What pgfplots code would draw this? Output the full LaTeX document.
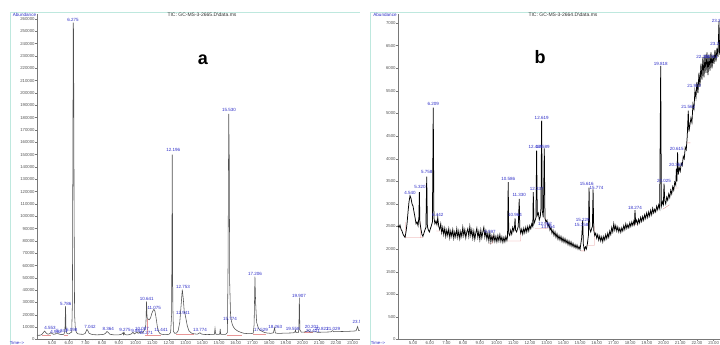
\documentclass[border=0pt]{standalone}
\usepackage{fontspec}
\setmainfont{Liberation Sans}
\usepackage{pgfplots}
\usepackage{pgfplotstable}
\pgfplotsset{compat=1.18}
\definecolor{pk}{RGB}{45,45,200}
\definecolor{axg}{RGB}{120,120,120}
\definecolor{tlg}{RGB}{85,85,85}
\definecolor{frm}{RGB}{190,232,222}
\definecolor{sigL}{RGB}{80,80,80}
\definecolor{pnk}{RGB}{232,150,150}
\pgfplotstableread{
t v
4.10 3600
4.20 3400
4.30 3500
4.40 4200
4.50 6000
4.56 6800
4.65 5200
4.75 4300
4.85 4600
4.93 5600
5.00 4800
5.10 4200
5.20 4500
5.30 5400
5.38 4600
5.50 4100
5.60 4000
5.70 4200
5.77 6000
5.81 27000
5.84 7000
5.90 4800
6.00 4500
6.10 5400
6.18 6000
6.22 30000
6.25 160000
6.27 257000
6.29 250000
6.32 110000
6.35 20000
6.40 8000
6.47 5500
6.55 4600
6.70 4300
6.85 4200
6.98 4800
7.05 7000
7.09 8200
7.14 7200
7.22 5000
7.35 4300
7.50 3900
7.70 3800
7.90 3900
8.10 4200
8.20 5000
8.29 6500
8.36 5800
8.45 4400
8.60 3900
8.80 3700
9.00 3800
9.15 4200
9.25 5500
9.28 4000
9.31 5800
9.36 4000
9.50 3700
9.65 4000
9.75 4600
9.85 5800
9.93 4500
10.00 5200
10.08 6200
10.15 5000
10.25 5800
10.35 5200
10.45 6000
10.55 8000
10.62 12000
10.66 31000
10.69 18000
10.75 16500
10.82 16000
10.90 17500
10.97 21000
11.05 23500
11.10 24500
11.16 23000
11.22 18500
11.30 11000
11.38 6500
11.45 5000
11.55 4300
11.70 4000
11.85 4000
12.00 4200
12.10 5500
12.16 20000
12.20 150000
12.23 30000
12.27 6500
12.35 5000
12.45 5200
12.55 7000
12.65 14000
12.73 28000
12.80 40500
12.86 33000
12.92 22000
12.97 20500
13.03 16000
13.10 11000
13.20 7000
13.35 5200
13.50 4600
13.70 4300
13.86 5500
13.95 4400
14.10 4100
14.30 4000
14.50 4100
14.72 4200
14.76 9000
14.80 4300
14.95 4200
15.04 4300
15.07 8500
15.10 4300
15.25 4100
15.40 4200
15.50 5500
15.54 60000
15.58 183000
15.61 150000
15.64 45000
15.69 20000
15.75 14500
15.80 12000
15.87 10000
15.95 8500
16.10 7000
16.30 5800
16.50 5000
16.70 4800
16.90 4700
17.05 5200
17.10 12000
17.15 51000
17.19 30000
17.25 14000
17.35 9500
17.45 7500
17.55 6800
17.70 5800
17.90 5200
18.10 5000
18.25 5400
18.33 9500
18.37 5300
18.50 5000
18.70 5000
18.90 5200
19.10 5200
19.30 5300
19.45 5400
19.55 6200
19.58 7500
19.61 5600
19.75 5600
19.78 8000
19.81 34000
19.84 8000
19.92 5900
20.10 6000
20.25 6800
20.35 7200
20.45 6000
20.60 6100
20.80 6200
20.90 5800
21.10 5900
21.40 6000
21.70 6200
21.80 7200
21.88 6300
22.10 6400
22.40 6500
22.70 6600
23.00 6800
23.20 7000
23.30 10500
23.36 7200
23.60 7200
23.80 7300
}\leftdata
\pgfplotstableread{
t v
4.10 2520
4.16 2480
4.22 2530
4.28 2440
4.34 2400
4.40 2330
4.46 2290
4.52 2260
4.58 2380
4.64 2560
4.70 2820
4.76 3050
4.82 3180
4.88 3120
4.94 3000
5.00 2950
5.06 2820
5.12 2700
5.18 2560
5.24 2600
5.30 2520
5.35 2700
5.38 3260
5.41 2600
5.47 2450
5.53 2330
5.59 2280
5.65 2350
5.71 2420
5.77 2480
5.82 3600
5.86 2500
5.92 2420
5.98 2380
6.04 2450
6.10 2520
6.16 2600
6.21 5130
6.25 2700
6.31 2560
6.37 2620
6.43 2540
6.48 2700
6.54 2500
6.60 2430
6.66 2560
6.72 2360
6.78 2480
6.84 2320
6.90 2460
6.96 2280
7.02 2420
7.08 2300
7.14 2450
7.20 2250
7.26 2400
7.32 2280
7.38 2430
7.44 2240
7.50 2380
7.56 2270
7.62 2450
7.68 2260
7.74 2400
7.80 2230
7.86 2390
7.92 2280
7.98 2480
8.04 2300
8.10 2430
8.16 2250
8.22 2380
8.28 2450
8.34 2280
8.40 2500
8.46 2300
8.52 2430
8.58 2240
8.64 2400
8.70 2220
8.76 2360
8.82 2460
8.88 2260
8.94 2390
9.00 2210
9.06 2420
9.12 2250
9.18 2380
9.24 2480
9.30 2270
9.36 2400
9.42 2220
9.48 2350
9.54 2180
9.60 2360
9.66 2160
9.72 2290
9.78 2180
9.84 2320
9.90 2170
9.96 2280
10.02 2160
10.08 2300
10.14 2180
10.20 2320
10.26 2170
10.32 2270
10.38 2150
10.44 2260
10.50 2160
10.56 2280
10.62 2190
10.66 2280
10.70 3480
10.73 2350
10.79 2300
10.85 2420
10.91 2330
10.97 2480
11.03 2400
11.08 2500
11.11 2680
11.14 2420
11.20 2380
11.26 2450
11.30 2500
11.36 3110
11.39 2480
11.45 2350
11.51 2440
11.57 2330
11.63 2460
11.69 2360
11.75 2480
11.81 2380
11.87 2500
11.93 2400
11.99 2520
12.05 2450
12.11 2560
12.17 2500
12.20 3260
12.24 2560
12.30 2620
12.36 2700
12.40 4180
12.44 2750
12.50 2800
12.56 2650
12.62 2720
12.66 2900
12.70 4840
12.74 2850
12.80 2700
12.86 4230
12.90 2680
12.96 2600
13.02 2640
13.08 2500
13.14 2560
13.20 2420
13.26 2480
13.32 2350
13.38 2420
13.44 2300
13.50 2380
13.56 2260
13.62 2340
13.68 2220
13.74 2300
13.80 2200
13.86 2280
13.92 2170
13.98 2250
14.04 2150
14.10 2230
14.16 2130
14.22 2200
14.28 2100
14.34 2180
14.40 2080
14.46 2160
14.52 2060
14.58 2130
14.64 2040
14.70 2100
14.76 2020
14.82 2090
14.88 2000
14.94 2060
15.00 1990
15.06 2150
15.10 2250
15.16 2640
15.20 2100
15.26 1980
15.32 2050
15.38 2000
15.44 2120
15.50 2300
15.54 3360
15.58 2450
15.64 2380
15.70 2460
15.74 2500
15.78 3320
15.82 2420
15.88 2300
15.94 2350
16.00 2240
16.06 2320
16.12 2200
16.18 2290
16.24 2180
16.30 2270
16.36 2160
16.42 2280
16.48 2200
16.54 2320
16.60 2230
16.66 2350
16.72 2260
16.78 2400
16.84 2320
16.90 2480
16.96 2380
17.02 2560
17.08 2420
17.14 2520
17.20 2400
17.26 2490
17.32 2380
17.38 2460
17.44 2370
17.50 2470
17.56 2400
17.62 2520
17.68 2430
17.74 2560
17.80 2460
17.86 2540
17.92 2470
17.98 2580
18.04 2500
18.10 2600
18.16 2520
18.22 2620
18.26 2560
18.29 2860
18.33 2580
18.39 2640
18.45 2550
18.51 2660
18.57 2580
18.63 2700
18.69 2610
18.75 2720
18.81 2640
18.87 2760
18.93 2680
18.99 2800
19.05 2700
19.11 2820
19.17 2730
19.23 2860
19.29 2760
19.35 2900
19.41 2800
19.47 2880
19.53 2820
19.59 2950
19.65 2870
19.71 2980
19.77 2900
19.83 6050
19.87 2950
19.93 3050
19.99 2980
20.03 3450
20.07 3080
20.13 3000
20.19 3150
20.25 3080
20.31 3220
20.37 3140
20.43 3300
20.49 3220
20.55 3380
20.61 3300
20.67 3480
20.73 3420
20.77 3780
20.80 3500
20.84 4140
20.88 3650
20.94 3800
21.00 3720
21.06 3900
21.12 3850
21.18 4050
21.24 4000
21.30 4250
21.36 4200
21.42 4500
21.48 5060
21.52 4600
21.58 4750
21.64 4900
21.70 4800
21.76 5200
21.82 5100
21.88 5500
21.94 5350
22.00 5700
22.06 5450
22.12 5900
22.18 5600
22.24 6100
22.30 5750
22.36 6250
22.42 5800
22.48 6300
22.54 5900
22.60 6350
22.66 5850
22.72 6300
22.78 5950
22.84 6350
22.90 6000
22.96 6300
23.02 6100
23.08 6400
23.14 6150
23.20 6450
23.26 6250
23.32 7050
23.36 6300
23.42 6500
23.50 6400
23.60 6550
23.70 6450
23.80 6500
}\rightdata
\pgfplotsset{
  gcms/.style={
    anchor=south west, scale only axis, width=329pt, height=325.5pt,
    xmin=4.1, xmax=23.8, ymin=0,
    axis x line*=bottom, axis y line*=left,
    axis line style={draw=axg,-,line width=0.4pt},
    clip=false,
    tick style={draw=axg,line width=0.3pt},
    tick align=outside, major tick length=1.6pt, minor tick length=1pt,
    xtick={5,6,...,23}, minor x tick num=4,
    /pgf/number format/assume math mode=true,
    tick label style={font=\fontsize{4.3}{5}\selectfont, text=tlg},
    xticklabel style={inner sep=0.6pt, /pgf/number format/.cd, fixed, fixed zerofill, precision=2},
    yticklabel style={inner sep=0.6pt, /pgf/number format/.cd, fixed, 1000 sep={}},
    scaled y ticks=false, scaled x ticks=false,
  },
}
\tikzset{plab/.style={font=\fontsize{4.5}{5}\selectfont, text=pk, inner sep=0pt}}
\begin{document}
\begin{tikzpicture}[x=1pt,y=1pt]
\useasboundingbox (0,0) rectangle (720,345);
\fill[white] (0,0) rectangle (720,345);
\draw[frm, line width=0.8pt] (10,0) -- (10,332.3) -- (360,332.3);
\begin{axis}[gcms, at={(37pt,5.5pt)}, ymax=264000,
  ytick={0,10000,20000,30000,40000,50000,60000,70000,80000,90000,100000,110000,120000,130000,140000,150000,160000,170000,180000,190000,200000,210000,220000,230000,240000,250000,260000}]
\addplot[pnk, line width=0.35pt, unbounded coords=jump] coordinates {
(4.40,3300) (4.95,3300) (nan,nan)
(5.70,3400) (5.95,3400) (nan,nan)
(10.55,3600) (11.55,3600) (nan,nan)
(10.69,3600) (10.69,17000) (nan,nan)
(12.45,4300) (13.50,4300) (nan,nan)
(15.45,3900) (16.40,3900) (nan,nan)
(17.05,4600) (17.80,4600) (nan,nan)
(20.10,5600) (20.60,5600) (nan,nan)
};
\addplot[sigL, line width=0.55pt] table[x=t,y=v] {\leftdata};
\node[plab] at (axis cs:6.26,259500) {6.275};
\node[plab] at (axis cs:15.60,186000) {15.530};
\node[plab] at (axis cs:12.26,153500) {12.196};
\node[plab] at (axis cs:12.84,42600) {12.753};
\node[plab] at (axis cs:12.84,21200) {12.941};
\node[plab] at (axis cs:10.67,32600) {10.641};
\node[plab] at (axis cs:11.12,25800) {11.075};
\node[plab] at (axis cs:11.53,7700) {11.441};
\node[plab] at (axis cs:5.82,28800) {5.786};
\node[plab] at (axis cs:4.88,9100) {4.553};
\node[plab] at (axis cs:5.24,6300) {4.962};
\node[plab] at (axis cs:5.60,7300) {5.341};
\node[plab] at (axis cs:6.18,7700) {6.098};
\node[plab] at (axis cs:7.27,9900) {7.042};
\node[plab] at (axis cs:8.37,8800) {8.364};
\node[plab] at (axis cs:9.37,7700) {9.275};
\node[plab] at (axis cs:10.09,6900) {9.861};
\node[plab] at (axis cs:10.39,8500) {10.087};
\node[plab] at (axis cs:10.63,5300) {10.271};
\node[plab] at (axis cs:13.86,7700) {13.774};
\node[plab] at (axis cs:15.66,16400) {15.774};
\node[plab] at (axis cs:17.15,52900) {17.206};
\node[plab] at (axis cs:17.51,7700) {17.529};
\node[plab] at (axis cs:18.37,10400) {18.263};
\node[plab] at (axis cs:19.79,35500) {19.907};
\node[plab] at (axis cs:19.41,8500) {19.558};
\node[plab] at (axis cs:20.55,10400) {20.201};
\node[plab] at (axis cs:20.63,6900) {20.421};
\node[plab] at (axis cs:21.15,8300) {20.821};
\node[plab] at (axis cs:21.84,8500) {21.029};
\node[plab] at (axis cs:23.34,14400) {23.51};
\end{axis}
\fill[white] (360,0) rectangle (720,345);
\draw[frm, line width=0.8pt] (370,0) -- (370,332.3) -- (720,332.3);
\begin{axis}[gcms, at={(398pt,5.5pt)}, ymax=7200,
  ytick={0,500,1000,1500,2000,2500,3000,3500,4000,4500,5000,5500,6000,6500,7000}]
\addplot[pnk, line width=0.35pt, unbounded coords=jump] coordinates {
(4.55,2250) (5.60,2250) (nan,nan)
(4.55,2250) (4.55,2600) (nan,nan)
(5.45,2250) (5.45,2600) (nan,nan)
(6.40,2400) (6.75,2400) (nan,nan)
(9.55,2130) (9.75,2130) (9.75,2300) (nan,nan)
(10.65,2180) (11.45,2180) (nan,nan)
(11.45,2180) (11.45,2400) (nan,nan)
(12.30,2450) (13.10,2450) (nan,nan)
(12.95,2450) (12.95,2700) (nan,nan)
(15.05,1960) (15.30,1960) (nan,nan)
(15.45,2080) (15.85,2080) (15.85,2500) (nan,nan)
(18.20,2550) (18.40,2550) (nan,nan)
(19.95,2880) (20.35,2980) (nan,nan)
(20.70,3350) (20.90,3350) (nan,nan)
(21.40,4350) (21.60,4350) (nan,nan)
};
\addplot[black, line width=0.75pt] table[x=t,y=v] {\rightdata};
\node[plab] at (axis cs:4.82,3240) {4.540};
\node[plab] at (axis cs:5.42,3370) {5.320};
\node[plab] at (axis cs:5.82,3700) {5.758};
\node[plab] at (axis cs:6.21,5210) {6.209};
\node[plab] at (axis cs:6.48,2750) {6.442};
\node[plab] at (axis cs:9.61,2380) {9.597};
\node[plab] at (axis cs:10.70,3560) {10.586};
\node[plab] at (axis cs:11.11,2750) {10.964};
\node[plab] at (axis cs:11.36,3190) {11.330};
\node[plab] at (axis cs:12.41,3340) {12.337};
\node[plab] at (axis cs:12.33,4250) {12.489};
\node[plab] at (axis cs:12.76,4250) {12.589};
\node[plab] at (axis cs:12.70,4910) {12.619};
\node[plab] at (axis cs:12.90,2560) {12.962};
\node[plab] at (axis cs:13.08,2500) {13.054};
\node[plab] at (axis cs:15.16,2640) {15.229};
\node[plab] at (axis cs:15.09,2530) {15.158};
\node[plab] at (axis cs:15.40,3450) {15.616};
\node[plab] at (axis cs:15.98,3360) {15.774};
\node[plab] at (axis cs:18.29,2900) {18.274};
\node[plab] at (axis cs:19.83,6090) {19.818};
\node[plab] at (axis cs:20.03,3500) {20.025};
\node[plab] at (axis cs:20.75,3850) {20.362};
\node[plab] at (axis cs:20.79,4220) {20.615};
\node[plab] at (axis cs:21.48,5140) {21.562};
\node[plab] at (axis cs:21.84,5610) {21.922};
\node[plab] at (axis cs:22.38,6250) {22.286};
\node[plab] at (axis cs:22.85,6250) {22.561};
\node[plab] at (axis cs:23.22,6530) {23.219};
\node[plab] at (axis cs:23.30,7050) {23.384};
\end{axis}
\node[font=\fontsize{5}{6}\selectfont, text=black!80, inner sep=0pt] at (202,330.6) {TIC: GC-MS-3-2665.D\textbackslash data.ms};
\node[font=\fontsize{5}{6}\selectfont, text=black!80, inner sep=0pt] at (563,330.4) {TIC: GC-MS-3-2664.D\textbackslash data.ms};
\node[font=\fontsize{4.6}{5}\selectfont, text=pk, inner sep=0pt] at (24.5,330) {Abundance};
\node[font=\fontsize{4.6}{5}\selectfont, text=pk, inner sep=0pt] at (385,330) {Abundance};
\node[font=\fontsize{4.3}{5}\selectfont, text=pk, inner sep=0pt] at (17,2) {Time-->};
\node[font=\fontsize{4.3}{5}\selectfont, text=pk, inner sep=0pt] at (378,2) {Time-->};
\node[font=\fontsize{18}{20}\selectfont\bfseries, inner sep=0pt] at (203,285) {a};
\node[font=\fontsize{18}{20}\selectfont\bfseries, inner sep=0pt] at (540,288) {b};
\end{tikzpicture}
\end{document}
